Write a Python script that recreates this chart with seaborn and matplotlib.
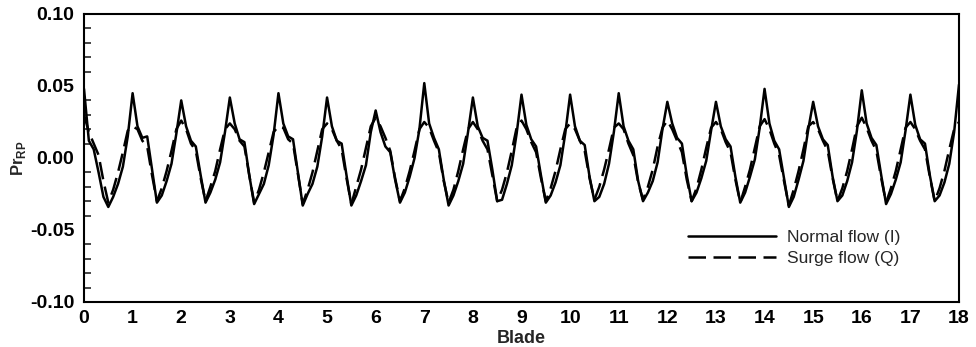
import numpy as np
import pandas as pd
import seaborn as sns
import matplotlib
matplotlib.use("Agg")
import matplotlib.pyplot as plt
from matplotlib.ticker import MultipleLocator, FormatStrFormatter
from matplotlib.lines import Line2D

# Sample positions: 10 samples per blade passage, 0 .. 18
blade = np.arange(0, 181) / 10.0

# Normal flow (I) -- one row per blade passage (k+0.0 ... k+0.9), plus the end value at 18
normal_rows = [
    [0.048, 0.012, 0.006, -0.010, -0.027, -0.034, -0.027, -0.018, -0.006, 0.015],
    [0.045, 0.022, 0.014, 0.015, -0.008, -0.031, -0.026, -0.016, -0.004, 0.017],
    [0.040, 0.022, 0.012, 0.008, -0.012, -0.031, -0.024, -0.015, -0.003, 0.018],
    [0.042, 0.024, 0.013, 0.011, -0.012, -0.032, -0.025, -0.018, -0.005, 0.016],
    [0.045, 0.024, 0.015, 0.013, -0.010, -0.033, -0.025, -0.018, -0.006, 0.015],
    [0.042, 0.022, 0.012, 0.010, -0.012, -0.033, -0.026, -0.016, -0.005, 0.018],
    [0.033, 0.018, 0.008, 0.004, -0.015, -0.031, -0.024, -0.013, 0.000, 0.020],
    [0.052, 0.024, 0.014, 0.006, -0.015, -0.033, -0.026, -0.016, -0.004, 0.018],
    [0.042, 0.022, 0.014, 0.012, -0.008, -0.030, -0.029, -0.018, -0.005, 0.017],
    [0.044, 0.023, 0.013, 0.008, -0.012, -0.031, -0.026, -0.017, -0.005, 0.017],
    [0.044, 0.022, 0.012, 0.009, -0.013, -0.030, -0.027, -0.018, -0.004, 0.018],
    [0.045, 0.022, 0.012, 0.006, -0.016, -0.030, -0.024, -0.016, -0.003, 0.020],
    [0.039, 0.024, 0.014, 0.010, -0.012, -0.030, -0.024, -0.014, -0.002, 0.019],
    [0.039, 0.022, 0.013, 0.008, -0.013, -0.031, -0.024, -0.013, -0.001, 0.021],
    [0.048, 0.024, 0.012, 0.006, -0.014, -0.034, -0.027, -0.015, -0.002, 0.020],
    [0.039, 0.022, 0.013, 0.009, -0.013, -0.030, -0.026, -0.016, -0.003, 0.019],
    [0.047, 0.024, 0.014, 0.009, -0.012, -0.032, -0.025, -0.015, -0.003, 0.019],
    [0.044, 0.023, 0.013, 0.010, -0.012, -0.030, -0.026, -0.017, -0.004, 0.018],
]
normal_end = 0.051

# Surge flow (Q)
surge_rows = [
    [0.030, 0.018, 0.010, 0.002, -0.016, -0.031, -0.022, -0.010, 0.004, 0.019],
    [0.022, 0.020, 0.012, 0.008, -0.012, -0.030, -0.021, -0.009, 0.005, 0.020],
    [0.026, 0.020, 0.010, 0.005, -0.014, -0.030, -0.020, -0.009, 0.006, 0.020],
    [0.024, 0.020, 0.012, 0.008, -0.012, -0.031, -0.022, -0.010, 0.004, 0.018],
    [0.022, 0.021, 0.013, 0.010, -0.011, -0.032, -0.022, -0.010, 0.005, 0.020],
    [0.024, 0.020, 0.012, 0.006, -0.014, -0.032, -0.020, -0.008, 0.007, 0.022],
    [0.028, 0.022, 0.014, 0.005, -0.014, -0.030, -0.021, -0.009, 0.005, 0.020],
    [0.025, 0.021, 0.012, 0.004, -0.016, -0.031, -0.022, -0.009, 0.006, 0.020],
    [0.025, 0.020, 0.012, 0.006, -0.012, -0.030, -0.022, -0.010, 0.005, 0.021],
    [0.026, 0.020, 0.011, 0.004, -0.014, -0.030, -0.021, -0.009, 0.006, 0.020],
    [0.024, 0.020, 0.012, 0.005, -0.014, -0.029, -0.020, -0.008, 0.006, 0.021],
    [0.024, 0.020, 0.010, 0.002, -0.017, -0.029, -0.020, -0.008, 0.008, 0.021],
    [0.026, 0.020, 0.012, 0.004, -0.015, -0.030, -0.021, -0.008, 0.007, 0.021],
    [0.025, 0.020, 0.011, 0.004, -0.015, -0.031, -0.020, -0.008, 0.007, 0.022],
    [0.027, 0.020, 0.010, 0.002, -0.016, -0.033, -0.022, -0.009, 0.006, 0.022],
    [0.025, 0.020, 0.012, 0.005, -0.014, -0.030, -0.021, -0.009, 0.006, 0.022],
    [0.028, 0.021, 0.012, 0.005, -0.014, -0.031, -0.021, -0.009, 0.006, 0.021],
    [0.025, 0.020, 0.012, 0.006, -0.013, -0.030, -0.021, -0.009, 0.006, 0.020],
]
surge_end = 0.025

series_names = ["Normal flow (I)", "Surge flow (Q)"]
x_ticks = list(range(0, 19))
y_ticks = [-0.10, -0.05, 0.00, 0.05, 0.10]

normal = [v for row in normal_rows for v in row] + [normal_end]
surge = [v for row in surge_rows for v in row] + [surge_end]

df = pd.concat([
    pd.DataFrame({"Blade": blade, "Pr": normal, "series": series_names[0]}),
    pd.DataFrame({"Blade": blade, "Pr": surge, "series": series_names[1]}),
], ignore_index=True)

sns.set_theme(style="white")
plt.rcParams["font.family"] = ["Liberation Sans", "DejaVu Sans"]
plt.rcParams["mathtext.fontset"] = "custom"
plt.rcParams["mathtext.rm"] = "Liberation Sans"
plt.rcParams["mathtext.bf"] = "Liberation Sans:bold"

fig = plt.figure(figsize=(9.76, 3.47), dpi=100)
ax = fig.add_axes([84 / 976, 1 - 302 / 347, (959 - 84) / 976, (302 - 14) / 347])

sns.lineplot(data=df, x="Blade", y="Pr", hue="series", style="series",
             palette={series_names[0]: "black", series_names[1]: "black"},
             dashes={series_names[0]: "", series_names[1]: (7, 3)},
             linewidth=1.8, ax=ax, legend=False)

ax.set_xlim(0, 18)
ax.set_ylim(-0.10, 0.10)
ax.set_xticks(x_ticks)
ax.set_yticks(y_ticks)
ax.yaxis.set_minor_locator(MultipleLocator(0.01))
ax.yaxis.set_major_formatter(FormatStrFormatter("%.2f"))

for s in ax.spines.values():
    s.set_linewidth(1.5)
    s.set_color("black")

ax.tick_params(axis="both", which="major", direction="in", length=10, width=1.5,
               labelsize=14, colors="black", top=False, right=False)
ax.tick_params(axis="y", which="minor", direction="in", length=5, width=1.2,
               left=True, right=False)
ax.tick_params(axis="x", which="major", pad=6)
ax.tick_params(axis="y", which="major", pad=7)
for lab in ax.get_xticklabels() + ax.get_yticklabels():
    lab.set_fontweight("bold")

ax.set_xlabel("Blade", fontsize=13, fontweight="bold", labelpad=2)
ax.set_ylabel(r"$\mathbf{Pr}_{\mathbf{RP}}$", fontsize=12)
ax.yaxis.set_label_coords(-0.064, 0.5)

handles = [Line2D([], [], color="black", lw=1.8),
           Line2D([], [], color="black", lw=1.8, dashes=(7, 3))]
ax.legend(handles, series_names, loc="upper left", bbox_to_anchor=(0.690, 0.250),
          frameon=False, fontsize=12.5, handlelength=5.1, handletextpad=0.63,
          labelspacing=0.33, borderpad=0, borderaxespad=0)

fig.savefig("out.png", dpi=100)
